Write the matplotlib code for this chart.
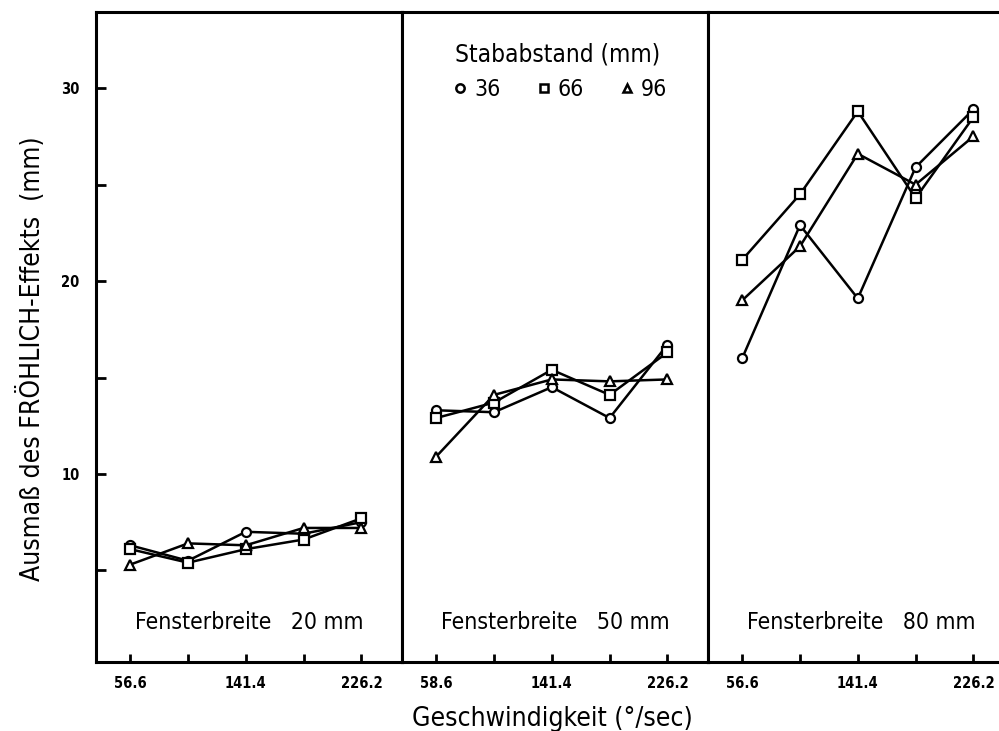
import numpy as np
import matplotlib
matplotlib.use("Agg")
import matplotlib.pyplot as plt
from matplotlib.lines import Line2D

plt.rcParams['font.family'] = ['DejaVu Sans']
plt.rcParams['font.stretch'] = 'condensed'

# Geschwindigkeit (deg/sec) - five stimulus speeds per panel
speeds = [56.6, 99.0, 141.4, 183.8, 226.2]
tick_pos = [56.6, 141.4, 226.2]
tick_labels = [["56.6", "141.4", "226.2"],
               ["58.6", "141.4", "226.2"],
               ["56.6", "141.4", "226.2"]]

window_labels = ["Fensterbreite   20 mm", "Fensterbreite   50 mm", "Fensterbreite   80 mm"]

# Stababstand 36 / 66 / 96 mm, one list per Fensterbreite
rod_36 = [[6.3, 5.5, 7.0, 6.9, 7.5],
          [13.3, 13.2, 14.5, 12.9, 16.7],
          [16.0, 22.9, 19.1, 25.9, 28.9]]
rod_66 = [[6.1, 5.4, 6.1, 6.6, 7.7],
          [12.9, 13.7, 15.4, 14.1, 16.3],
          [21.1, 24.5, 28.8, 24.3, 28.5]]
rod_96 = [[5.3, 6.4, 6.3, 7.2, 7.2],
          [10.9, 14.1, 14.9, 14.8, 14.9],
          [19.0, 21.8, 26.6, 25.0, 27.5]]

series = [(rod_36, 'o', '36'), (rod_66, 's', '66'), (rod_96, '^', '96')]

fig = plt.figure(figsize=(9.99, 7.31), dpi=100)

left = 96 / 999
bottom = 1 - 662 / 731
height = (662 - 12) / 731
width = 306 / 999

axes = []
for i in range(3):
    ax = fig.add_axes([left + i * width, bottom, width, height])
    for data, mk, lab in series:
        ax.plot(speeds, data[i], color='black', lw=1.8, marker=mk, ms=6.5,
                mfc='white', mec='black', mew=1.6)
    ax.set_xlim(31.5, 256)
    ax.set_ylim(0.25, 33.95)
    ax.set_xticks(speeds)
    ax.set_xticklabels(["" if s not in tick_pos else tick_labels[i][tick_pos.index(s)]
                        for s in speeds])
    ax.tick_params(axis='x', direction='in', length=6, width=2, pad=10,
                   labelsize=10.5)
    for t in ax.get_xticklabels():
        t.set_fontweight('bold')
    for sp in ax.spines.values():
        sp.set_linewidth(2.2)
    ax.text(0.5, 0.051, window_labels[i], transform=ax.transAxes,
            ha='center', va='baseline', fontsize=16.5)
    if i == 0:
        ax.set_yticks([10, 20, 30])
        ax.set_yticks([5, 15, 25], minor=True)
        ax.tick_params(axis='y', which='both', direction='in', length=7,
                       width=2, pad=12, labelsize=10.5)
        for t in ax.get_yticklabels():
            t.set_fontweight('bold')
    else:
        ax.set_yticks([])
    axes.append(ax)

handles = [Line2D([], [], ls='none', marker=mk, ms=6, mfc='white',
                  mec='black', mew=1.8, color='black', label=lab)
           for _, mk, lab in series]
leg = axes[1].legend(handles=handles, title="Stababstand (mm)", ncol=3,
                     loc='upper center', bbox_to_anchor=(0.51, 0.985),
                     frameon=False, fontsize=16.5, title_fontsize=17.5,
                     handletextpad=0.1, columnspacing=1.4, handlelength=1.0)

fig.text(32 / 999, 1 - 359 / 731, "Ausmaß des FRÖHLICH-Effekts  (mm)",
         rotation=90, ha='center', va='center', fontsize=19)
fig.text(552 / 999, 1 - 726 / 731, "Geschwindigkeit (°/sec)",
         ha='center', va='baseline', fontsize=19)

fig.savefig("out.png", dpi=100)
